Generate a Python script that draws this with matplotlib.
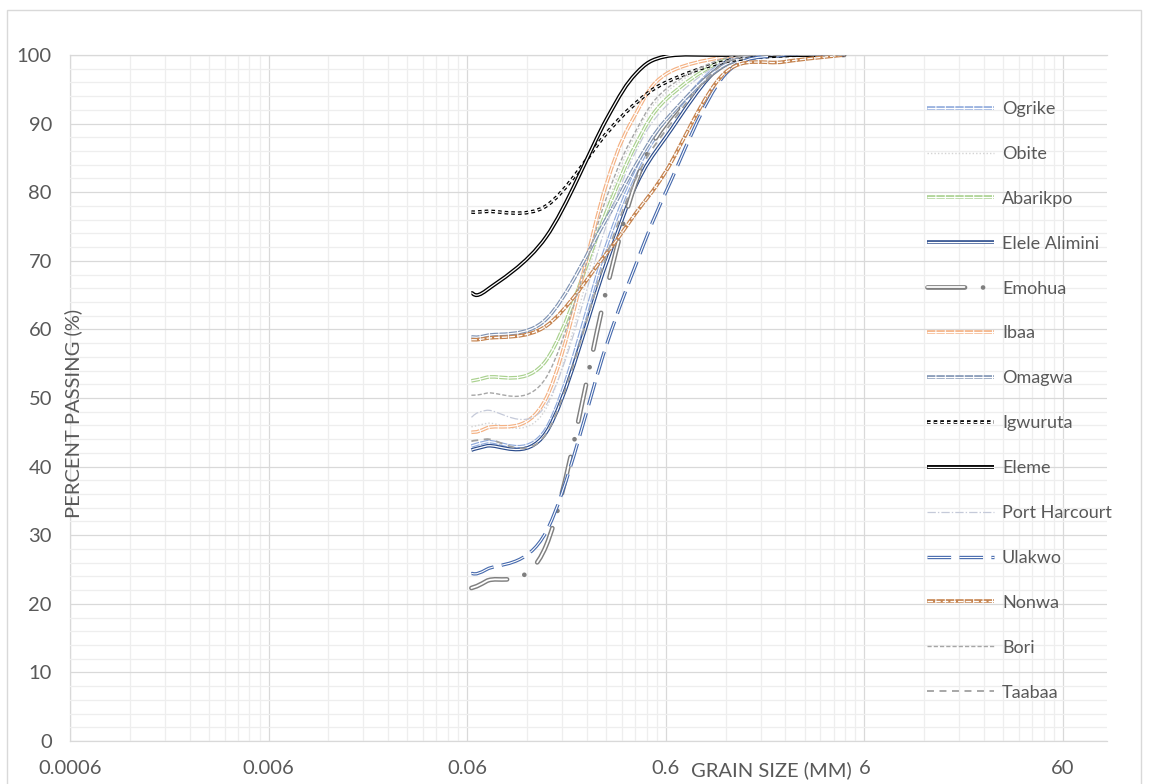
import matplotlib
matplotlib.use("Agg")
import matplotlib.pyplot as plt
import numpy as np
from matplotlib import font_manager, ticker
from matplotlib.legend_handler import HandlerTuple
from matplotlib.lines import Line2D
from matplotlib.patches import PathPatch, Rectangle
from matplotlib.path import Path

# sieve sizes (mm) and percent passing
SIZES = [0.063, 0.075, 0.15, 0.3, 0.425, 0.6, 1.18, 2.36, 4.75]

OGRIKE = [43.0, 43.6, 45.5, 72.0, 83.0, 90.0, 99.0, 100, 100]
OBITE = [45.8, 46.3, 48.5, 77.5, 88.5, 94.5, 99.5, 100, 100]
ABARIKPO = [52.5, 53.0, 55.5, 77.0, 87.0, 93.5, 99.2, 100, 100]
ELELE_ALIMINI = [42.4, 43.0, 45.0, 69.5, 81.0, 88.0, 98.8, 100, 100]
EMOHUA = [22.3, 23.3, 28.5, 65.5, 81.5, 90.0, 98.5, 100, 100]
IBAA = [45.0, 45.6, 50.0, 81.0, 91.5, 97.2, 99.7, 100, 100]
OMAGWA = [58.9, 59.1, 61.5, 76.0, 84.0, 90.5, 98.5, 100, 100]
IGWURUTA = [77.1, 77.2, 78.0, 88.5, 93.0, 96.0, 99.0, 99.9, 100]
ELEME = [65.3, 65.7, 73.5, 90.5, 97.3, 99.8, 100, 100, 100]
PORT_HARCOURT = [47.2, 48.2, 49.0, 75.0, 86.0, 92.5, 99.0, 100, 100]
ULAKWO = [24.4, 25.0, 30.5, 57.5, 69.5, 80.0, 97.0, 100, 100]
NONWA = [58.5, 58.7, 60.5, 71.0, 77.0, 83.0, 97.3, 99.0, 100]
BORI = [50.4, 50.7, 53.0, 79.0, 89.0, 95.0, 99.5, 100, 100]
TAABAA = [43.7, 44.0, 44.8, 70.5, 82.0, 89.0, 98.8, 100, 100]

X_TICKS = [0.0006, 0.006, 0.06, 0.6, 6, 60]
X_TICK_LABELS = ["0.0006", "0.006", "0.06", "0.6", "6", "60"]

W, H = 1151, 784
TEXT = "#595959"

names = [f.name for f in font_manager.fontManager.ttflist]
FONT = "Lato" if "Lato" in names else "DejaVu Sans"
plt.rcParams["font.family"] = [FONT, "DejaVu Sans"]
plt.rcParams["lines.scale_dashes"] = False

# name, values, color, outer lw, outer dash, cap, inner lw, inner dash
SERIES = [
    ("Ogrike", OGRIKE, "#8FAADC", 2.6, (0, (6, 0.8)), "butt", 0.9, "-"),
    ("Obite", OBITE, "#D3D3D3", 1.0, (0, (1, 1.5)), "butt", None, None),
    ("Abarikpo", ABARIKPO, "#A9D18E", 2.6, (0, (6, 0.8)), "butt", 0.9, "-"),
    ("Elele Alimini", ELELE_ALIMINI, "#2B4C8C", 2.6, "-", "butt", 0.9, "-"),
    ("Emohua", EMOHUA, "#7F7F7F", 3.4, (0, (27, 13, 0.01, 13)), "round", 1.3, (0, (27, 26.01))),
    ("Ibaa", IBAA, "#F4B183", 2.6, (0, (6, 0.8)), "butt", 0.9, "-"),
    ("Omagwa", OMAGWA, "#7F93B3", 2.6, (0, (6, 0.8)), "butt", 0.9, "-"),
    ("Igwuruta", IGWURUTA, "black", 2.6, (0, (2.6, 2.2)), "butt", 0.8, (0, (2.6, 2.2))),
    ("Eleme", ELEME, "black", 2.8, "-", "butt", 0.9, "-"),
    ("Port Harcourt", PORT_HARCOURT, "#C5CAD9", 0.9, (0, (6, 1.5, 1, 1.5)), "butt", None, None),
    ("Ulakwo", ULAKWO, "#4468AC", 2.4, (0, (17, 6)), "butt", 0.8, (0, (17, 6))),
    ("Nonwa", NONWA, "#C5834F", 2.6, (0, (6, 0.8)), "butt", 0.9, (0, (4, 1.5))),
    ("Bori", BORI, "#A6A6A6", 1.0, (0, (3, 1.5)), "butt", None, None),
    ("Taabaa", TAABAA, "#A0A0A0", 1.3, (0, (5, 4)), "butt", None, None),
]


def smooth_path(xs, ys):
    # Excel-like smoothed line: cubic Bezier through the points, built in log-x space
    u = np.log10(np.asarray(xs, float))
    v = np.asarray(ys, float)
    n = len(u)
    verts = [(u[0], v[0])]
    codes = [Path.MOVETO]
    for i in range(n - 1):
        a = max(i - 1, 0)
        b = min(i + 2, n - 1)
        c1 = (u[i] + (u[i + 1] - u[a]) / 6, v[i] + (v[i + 1] - v[a]) / 6)
        c2 = (u[i + 1] - (u[b] - u[i]) / 6, v[i + 1] - (v[b] - v[i]) / 6)
        verts += [c1, c2, (u[i + 1], v[i + 1])]
        codes += [Path.CURVE4] * 3
    verts = np.array(verts)
    verts[:, 0] = 10 ** verts[:, 0]
    return Path(verts, codes)


def px(x, y):
    return x / W, 1 - y / H


fig = plt.figure(figsize=(W / 100, H / 100), dpi=100)
l, b = px(70, 741)
r, t = px(1107, 55)
ax = fig.add_axes([l, b, r - l, t - b])
ax.set_xscale("log")
ax.set_xlim(0.0006, 100)
ax.set_ylim(0, 100)

minor_x = [m * 0.0006 * 10 ** k for k in range(6) for m in range(2, 10) if m * 0.0006 * 10 ** k < 100]
ax.xaxis.set_major_locator(ticker.FixedLocator(X_TICKS))
ax.xaxis.set_major_formatter(ticker.FixedFormatter(X_TICK_LABELS))
ax.xaxis.set_minor_locator(ticker.FixedLocator(minor_x))
ax.xaxis.set_minor_formatter(ticker.NullFormatter())
ax.yaxis.set_major_locator(ticker.MultipleLocator(10))
ax.yaxis.set_minor_locator(ticker.MultipleLocator(2))
ax.grid(which="minor", color="#EEEEEE", lw=0.9)
ax.grid(which="major", color="#D9D9D9", lw=0.9)
ax.set_axisbelow(True)
for s in ax.spines.values():
    s.set_visible(False)
ax.axhline(0, color="#D9D9D9", lw=0.9, clip_on=False, zorder=0.5)
ax.axhline(100, color="#D9D9D9", lw=0.9, clip_on=False, zorder=0.5)
ax.axvline(0.0006, color="#D9D9D9", lw=0.9, clip_on=False, zorder=0.5)

ax.tick_params(which="both", length=0)
ax.tick_params(axis="x", pad=14, labelsize=14.5, labelcolor=TEXT)
ax.tick_params(axis="y", pad=13, labelsize=14.5, labelcolor=TEXT)

handles = []
labels = []
for name, vals, color, lw, ls, cap, ilw, ils in SERIES:
    path = smooth_path(SIZES, vals)
    outer = PathPatch(path, facecolor="none", edgecolor=color, lw=lw, linestyle=ls,
                      capstyle=cap, joinstyle="round", transform=ax.transData)
    ax.add_patch(outer)
    h_outer = Line2D([], [], color=color, lw=lw, linestyle=ls,
                     dash_capstyle=cap, solid_capstyle="butt")
    group = [h_outer]
    if ilw:
        inner = PathPatch(path, facecolor="none", edgecolor="white", lw=ilw, linestyle=ils,
                          capstyle=cap, joinstyle="round", transform=ax.transData)
        ax.add_patch(inner)
        group.append(Line2D([], [], color="white", lw=ilw, linestyle=ils,
                            dash_capstyle=cap, solid_capstyle="butt"))
    handles.append(tuple(group))
    labels.append(name)

lx, ly = px(927, 101)
ax.legend(handles, labels, handler_map={tuple: HandlerTuple(ndivide=1, pad=0)},
          loc="upper left", bbox_to_anchor=(lx, ly), bbox_transform=fig.transFigure,
          frameon=False, fontsize=13, labelcolor=TEXT, handlelength=3.71,
          handletextpad=0.44, labelspacing=1.6, borderpad=0, borderaxespad=0)

x, y = px(73, 413)
fig.text(x, y, "PERCENT PASSING (%)", rotation=90, ha="center", va="center",
         fontsize=14.5, color=TEXT)
x, y = px(771, 770)
fig.text(x, y, "GRAIN SIZE (MM)", ha="center", va="center", fontsize=14.5, color=TEXT)

bx, by = px(7, 790)
ex, ey = px(1141, 10)
fig.add_artist(Rectangle((bx, by), ex - bx, ey - by, transform=fig.transFigure,
                         fill=False, edgecolor="#D9D9D9", lw=1))

fig.savefig("out.png", dpi=100)
